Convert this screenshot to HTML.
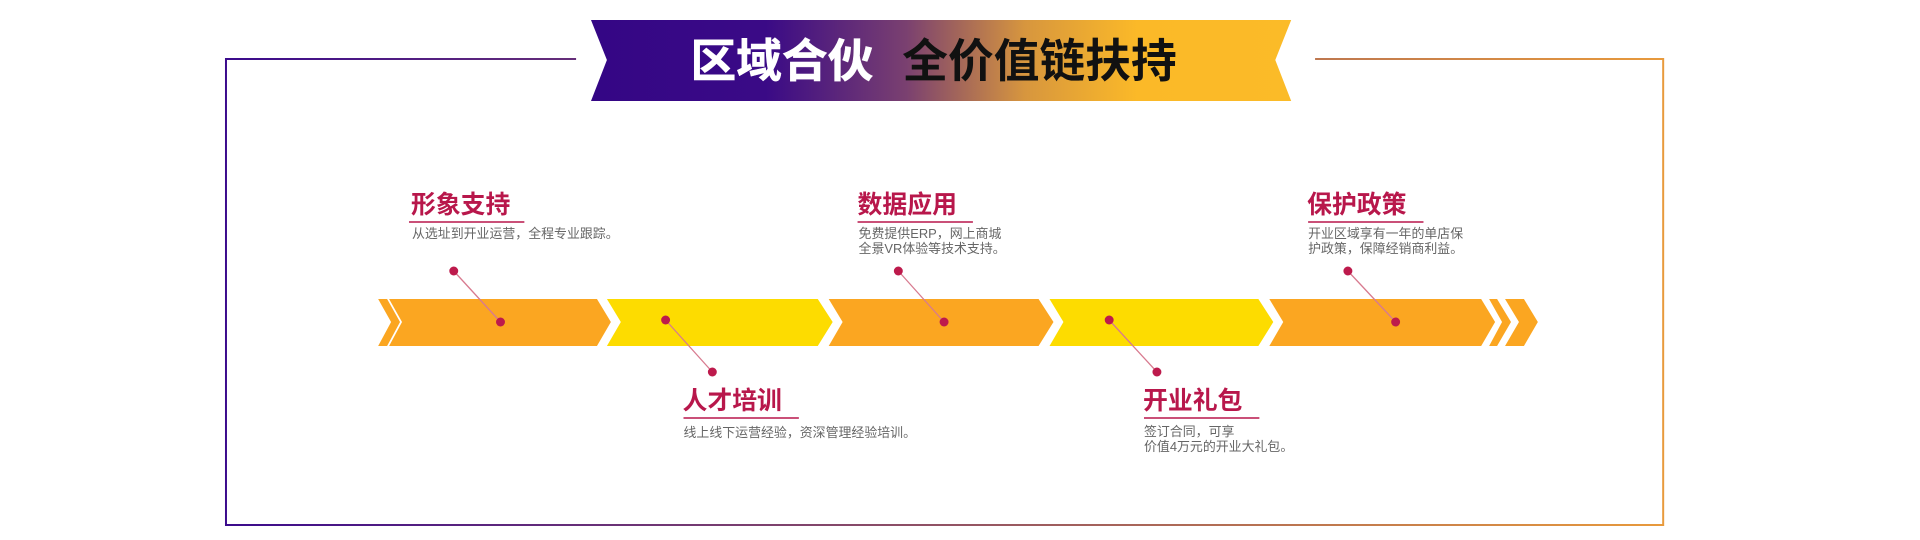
<!DOCTYPE html>
<html><head><meta charset="utf-8"><style>
html,body{margin:0;padding:0;background:#fff;}
svg{display:block}
text{font-family:"Liberation Sans","Noto Sans CJK SC",sans-serif;}
.t{font-size:25px;font-weight:bold;fill:#b8174b;}
.d{font-size:13px;fill:#666;}
</style></head><body>
<svg width="1920" height="540" viewBox="0 0 1920 540" xmlns="http://www.w3.org/2000/svg">
<defs>
<linearGradient id="fr" x1="0" x2="1" y1="0" y2="0">
<stop offset="0" stop-color="#3b0b8c"/><stop offset="1" stop-color="#e89a3c"/></linearGradient>
<linearGradient id="bn" x1="0" x2="1" y1="0" y2="0">
<stop offset="0" stop-color="#340685"/><stop offset="0.25" stop-color="#3a0a86"/>
<stop offset="0.45" stop-color="#7a4070"/><stop offset="0.62" stop-color="#d7963e"/>
<stop offset="0.78" stop-color="#fbb928"/><stop offset="1" stop-color="#fbbb28"/></linearGradient>
</defs>
<g transform="translate(1.2,0) scale(0.9946,1)">
<!-- frame -->
<path d="M578 59 H226 V525 H1671 V59 H1321" fill="none" stroke="url(#fr)" stroke-width="2"/>
<!-- banner -->
<polygon points="593,20 1297,20 1281,60 1297,101 593,101 609,60" fill="url(#bn)"/>
<text x="693" y="77" font-size="46" font-weight="bold" fill="#fff" stroke="#fff" stroke-width="0.5">区域合伙</text>
<text x="906" y="77" font-size="46" font-weight="bold" fill="#111">全价值链扶持</text>
<!-- arrows -->
<g>
<polygon points="379,299 388,299 401,322 388,346 379,346 392,322" fill="#fba621"/>
<polygon points="390,299 599,299 613,322 599,346 390,346 403,322" fill="#fba621"/>
<polygon points="609,299 821,299 836,322 821,346 609,346 623,322" fill="#fddc00"/>
<polygon points="832,299 1043,299 1058,322 1043,346 832,346 846,322" fill="#fba621"/>
<polygon points="1054,299 1264,299 1279,322 1264,346 1054,346 1068,322" fill="#fddc00"/>
<polygon points="1275,299 1488,299 1502,322 1488,346 1275,346 1289,322" fill="#fba621"/>
<polygon points="1496,299 1504,299 1518,322 1504,346 1496,346 1509,322" fill="#fba621"/>
<polygon points="1512,299 1531,299 1545,322 1531,346 1512,346 1526,322" fill="#fba621"/>
</g>
<!-- connectors -->
<g stroke="#d87a8f" stroke-width="1.3">
<line x1="455" y1="271" x2="502" y2="322"/>
<line x1="668" y1="320" x2="715" y2="372"/>
<line x1="902" y1="271" x2="948" y2="322"/>
<line x1="1114" y1="320" x2="1162" y2="372"/>
<line x1="1354" y1="271" x2="1402" y2="322"/>
</g>
<g fill="#bd1a4c">
<circle cx="455" cy="271" r="4.5"/><circle cx="502" cy="322" r="4.5"/>
<circle cx="668" cy="320" r="4.5"/><circle cx="715" cy="372" r="4.5"/>
<circle cx="902" cy="271" r="4.5"/><circle cx="948" cy="322" r="4.5"/>
<circle cx="1114" cy="320" r="4.5"/><circle cx="1162" cy="372" r="4.5"/>
<circle cx="1354" cy="271" r="4.5"/><circle cx="1402" cy="322" r="4.5"/>
</g>
<!-- labels -->
<g stroke="#b8174b" stroke-width="1.5">
<line x1="410" y1="222" x2="526" y2="222"/>
<line x1="861" y1="222" x2="977" y2="222"/>
<line x1="1314" y1="222" x2="1430" y2="222"/>
<line x1="686" y1="418" x2="802" y2="418"/>
<line x1="1149" y1="418" x2="1265" y2="418"/>
</g>
<text class="t" x="412" y="213">形象支持</text>
<text class="d" x="413" y="238">从选址到开业运营，全程专业跟踪。</text>
<text class="t" x="861" y="213">数据应用</text>
<text class="d" x="862" y="238">免费提供ERP，网上商城</text>
<text class="d" x="862" y="253">全景VR体验等技术支持。</text>
<text class="t" x="1313" y="213">保护政策</text>
<text class="d" x="1314" y="238">开业区域享有一年的单店保</text>
<text class="d" x="1314" y="253">护政策，保障经销商利益。</text>
<text class="t" x="685" y="409">人才培训</text>
<text class="d" x="686" y="437">线上线下运营经验，资深管理经验培训。</text>
<text class="t" x="1148" y="409">开业礼包</text>
<text class="d" x="1149" y="436">签订合同，可享</text>
<text class="d" x="1149" y="451">价值4万元的开业大礼包。</text>
</g>
</svg>
</body></html>
